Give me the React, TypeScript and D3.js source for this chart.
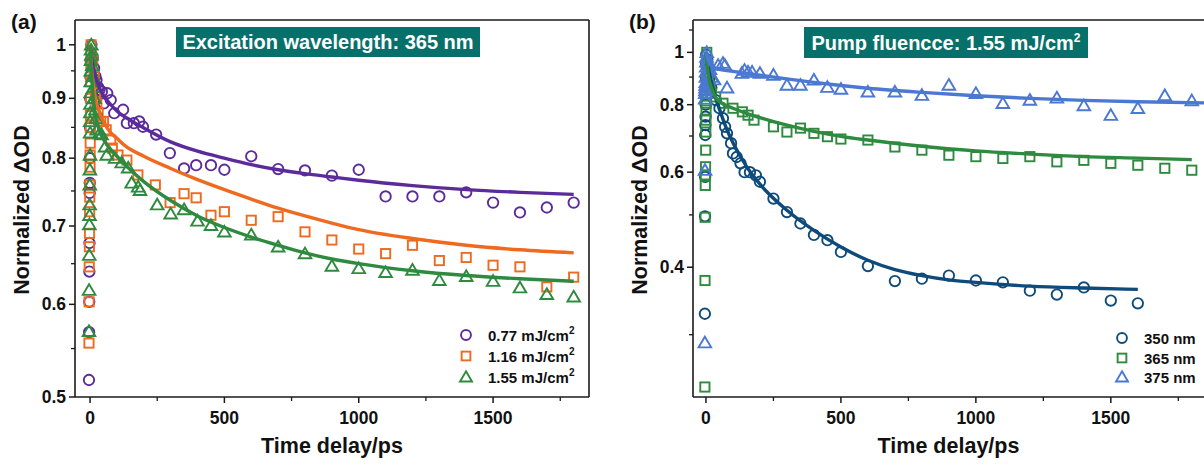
import React from "react";
import * as d3 from "d3";

// ---------- Panel (a) data: excitation 365 nm, different fluences ----------
const aSeriesNames = ["0.77", "1.16", "1.55"];
const aColors = ["#5b2a9b", "#ef6a1f", "#2e8a3f"];

const a077T = [-4, -3.5, -3, -2.5, -2, -1.5, -1, -0.5, 0, 0.5, 1, 2, 5, 10, 15, 20, 24, 30, 35, 44, 51, 64, 77, 90, 123, 137, 163, 183, 197, 246, 297, 350, 395, 450, 500, 600, 700, 800, 900, 1000, 1100, 1200, 1300, 1400, 1500, 1600, 1700, 1800];
const a077V = [0.517, 0.568, 0.603, 0.64, 0.677, 0.747, 0.762, 0.8, 0.85, 0.9, 0.94, 0.97, 1.0, 0.975, 0.955, 0.94, 0.933, 0.92, 0.915, 0.912, 0.891, 0.909, 0.897, 0.874, 0.88, 0.857, 0.857, 0.86, 0.851, 0.838, 0.808, 0.784, 0.789, 0.789, 0.782, 0.803, 0.783, 0.781, 0.773, 0.782, 0.742, 0.742, 0.742, 0.748, 0.733, 0.719, 0.726, 0.733];

const a116T = [-4, -3.5, -3, -2.5, -2, -1.5, -1, -0.5, 0, 0.3, 0.6, 1, 1.5, 2, 2.5, 3, 3.5, 4, 10, 15, 20, 25, 30, 40, 50, 60, 77, 83, 104, 137, 178, 243, 298, 350, 395, 450, 500, 600, 700, 800, 900, 1000, 1100, 1200, 1300, 1400, 1500, 1600, 1700, 1800];
const a116V = [0.556, 0.603, 0.646, 0.672, 0.69, 0.72, 0.741, 0.759, 0.786, 0.805, 0.824, 0.85, 0.87, 0.9, 0.93, 0.96, 0.98, 1.0, 0.97, 0.94, 0.91, 0.89, 0.875, 0.86, 0.86, 0.846, 0.829, 0.816, 0.805, 0.797, 0.774, 0.759, 0.733, 0.746, 0.74, 0.715, 0.72, 0.708, 0.713, 0.692, 0.681, 0.669, 0.663, 0.674, 0.654, 0.658, 0.648, 0.646, 0.621, 0.633];

const a155T = [-4, -3.5, -3, -2.5, -2, -1.5, -1, -0.5, 0, 0.3, 0.6, 1, 1.5, 2, 2.5, 3, 3.5, 4, 4.5, 5, 8, 11, 14, 17, 20, 23, 25, 35, 43, 56, 62, 93, 118, 142, 155, 179, 186, 250, 300, 350, 400, 450, 500, 600, 700, 800, 900, 1000, 1100, 1200, 1300, 1400, 1500, 1600, 1700, 1800];
const a155V = [0.569, 0.617, 0.661, 0.702, 0.715, 0.73, 0.759, 0.782, 0.805, 0.841, 0.86, 0.875, 0.89, 0.91, 0.93, 0.95, 0.97, 0.99, 1.0, 0.98, 0.96, 0.94, 0.92, 0.9, 0.88, 0.865, 0.846, 0.84, 0.838, 0.818, 0.805, 0.8, 0.793, 0.785, 0.762, 0.756, 0.751, 0.73, 0.717, 0.723, 0.707, 0.701, 0.692, 0.688, 0.672, 0.663, 0.647, 0.644, 0.639, 0.642, 0.629, 0.634, 0.628, 0.62, 0.612, 0.609];

const aFit077T = [0, 5, 15, 30, 50, 75, 100, 150, 200, 300, 400, 500, 600, 700, 800, 900, 1000, 1200, 1400, 1600, 1800];
const aFit077V = [1.0, 0.975, 0.95, 0.925, 0.905, 0.89, 0.878, 0.862, 0.849, 0.826, 0.811, 0.8, 0.79, 0.782, 0.776, 0.771, 0.766, 0.758, 0.752, 0.748, 0.745];
const aFit116T = [0, 5, 10, 20, 35, 50, 75, 100, 130, 200, 300, 400, 500, 600, 700, 800, 900, 1000, 1200, 1400, 1600, 1800];
const aFit116V = [1.0, 0.96, 0.93, 0.9, 0.875, 0.86, 0.842, 0.832, 0.82, 0.803, 0.784, 0.767, 0.752, 0.738, 0.725, 0.714, 0.704, 0.695, 0.683, 0.674, 0.668, 0.664];
const aFit155T = [0, 5, 10, 20, 35, 50, 75, 100, 150, 200, 300, 400, 500, 600, 700, 800, 900, 1000, 1200, 1400, 1600, 1800];
const aFit155V = [1.0, 0.95, 0.91, 0.87, 0.845, 0.83, 0.815, 0.803, 0.782, 0.764, 0.736, 0.714, 0.698, 0.685, 0.674, 0.664, 0.656, 0.65, 0.641, 0.635, 0.631, 0.628];

// ---------- Panel (b) data: pump fluence 1.55 mJ/cm2, different wavelengths ----------
const bSeriesNames = ["350 nm", "365 nm", "375 nm"];
const bColors = ["#0e4a7a", "#2e8a3f", "#4a78d2"];

const b350T = [-4, -3.5, -3, -2.5, -2, -1.5, -1, -0.5, 0, 0.5, 1, 5, 10, 15, 20, 36, 50, 63, 71, 78, 93, 100, 114, 128, 143, 163, 185, 200, 250, 300, 350, 400, 450, 500, 600, 700, 800, 900, 1000, 1100, 1200, 1300, 1400, 1500, 1600];
const b350V = [0.328, 0.497, 0.588, 0.703, 0.733, 0.76, 0.8, 0.85, 0.9, 0.95, 0.99, 0.97, 0.93, 0.9, 0.86, 0.816, 0.788, 0.755, 0.728, 0.708, 0.679, 0.65, 0.64, 0.623, 0.6, 0.6, 0.592, 0.576, 0.536, 0.506, 0.482, 0.459, 0.449, 0.427, 0.402, 0.377, 0.381, 0.386, 0.378, 0.375, 0.362, 0.356, 0.367, 0.347, 0.343];

const b365T = [-4, -3.5, -3, -2.5, -2, -1.5, -1, -0.5, 0, 0.3, 0.6, 1, 1.5, 2, 2.5, 3, 5, 10, 15, 20, 36, 63, 100, 135, 156, 178, 250, 300, 350, 400, 450, 500, 600, 700, 800, 900, 1000, 1100, 1200, 1300, 1400, 1500, 1600, 1700, 1800];
const b365V = [0.24, 0.378, 0.495, 0.567, 0.593, 0.614, 0.659, 0.712, 0.749, 0.782, 0.805, 0.83, 0.86, 0.9, 0.95, 1.0, 0.95, 0.9, 0.86, 0.84, 0.827, 0.805, 0.788, 0.776, 0.765, 0.749, 0.728, 0.712, 0.724, 0.708, 0.698, 0.691, 0.688, 0.668, 0.659, 0.645, 0.641, 0.636, 0.641, 0.627, 0.631, 0.623, 0.618, 0.61, 0.605];

const b375T = [-4, -3.5, -3, -2.5, -2, -1.5, -1, -0.5, 0, 0.5, 1, 1.5, 2, 3, 8, 15, 22, 30, 45, 63, 70, 78, 133, 143, 156, 171, 200, 250, 300, 350, 400, 450, 500, 600, 700, 800, 900, 1000, 1100, 1200, 1300, 1400, 1500, 1600, 1700, 1800];
const b375V = [0.29, 0.605, 0.82, 0.84, 0.85, 0.86, 0.87, 0.88, 0.9, 0.92, 0.94, 0.96, 0.98, 1.0, 0.96, 0.93, 0.9, 0.89, 0.947, 0.955, 0.947, 0.86, 0.915, 0.927, 0.92, 0.92, 0.915, 0.908, 0.87, 0.87, 0.889, 0.862, 0.855, 0.845, 0.845, 0.833, 0.87, 0.84, 0.805, 0.816, 0.824, 0.797, 0.765, 0.788, 0.832, 0.814];

const bFit350T = [0, 10, 25, 50, 75, 100, 150, 200, 300, 400, 500, 600, 700, 800, 900, 1000, 1200, 1400, 1600];
const bFit350V = [1.0, 0.93, 0.86, 0.785, 0.725, 0.68, 0.615, 0.57, 0.51, 0.468, 0.436, 0.412, 0.396, 0.386, 0.379, 0.375, 0.369, 0.366, 0.364];
const bFit365T = [0, 10, 20, 40, 70, 100, 150, 200, 300, 400, 500, 600, 800, 1000, 1200, 1400, 1600, 1800];
const bFit365V = [1.0, 0.9, 0.86, 0.82, 0.8, 0.788, 0.771, 0.757, 0.733, 0.714, 0.699, 0.688, 0.67, 0.657, 0.648, 0.641, 0.637, 0.633];
const bFit375T = [0, 10, 25, 50, 100, 200, 300, 400, 500, 600, 800, 1000, 1200, 1400, 1600, 1850];
const bFit375V = [1.0, 0.96, 0.94, 0.93, 0.922, 0.907, 0.893, 0.88, 0.868, 0.858, 0.843, 0.831, 0.822, 0.815, 0.81, 0.806];

// ---------- Axis ticks ----------
const xMajorTicks = [0, 500, 1000, 1500];
const xMinorTicks = [250, 750, 1250, 1750];
const aYMajor = [0.5, 0.6, 0.7, 0.8, 0.9, 1];
const aYMajorLabels = ["0.5", "0.6", "0.7", "0.8", "0.9", "1"];
const aYMinor = [0.55, 0.65, 0.75, 0.85, 0.95];
const bYMajor = [0.4, 0.6, 0.8, 1];
const bYMajorLabels = ["0.4", "0.6", "0.8", "1"];
const bYMinor = [0.3, 0.5, 0.7, 0.9, 1.1];

const FONT = "'Liberation Sans', Arial, Helvetica, sans-serif";

type Shape = "circle" | "square" | "triangle";

function Marker({ x, y, shape, color, s = 1 }: { x: number; y: number; shape: Shape; color: string; s?: number }) {
  const sw = 1.9;
  if (shape === "circle") return <circle cx={x} cy={y} r={5.2 * s} fill="none" stroke={color} strokeWidth={sw} />;
  if (shape === "square") {
    const h = 4.6 * s;
    return <rect x={x - h} y={y - h} width={2 * h} height={2 * h} fill="none" stroke={color} strokeWidth={sw} />;
  }
  const w = 6.3 * s;
  const p = `M${x},${y - 6 * s}L${x + w},${y + 4.7 * s}L${x - w},${y + 4.7 * s}Z`;
  return <path d={p} fill="none" stroke={color} strokeWidth={sw} strokeLinejoin="miter" />;
}

interface SeriesDef {
  t: number[];
  v: number[];
  fitT: number[];
  fitV: number[];
  color: string;
  shape: Shape;
  label: string;
  sup: boolean;
}

function Panel(props: {
  left: number; right: number; top: number; bottom: number;
  xDomain: [number, number]; yDomain: [number, number];
  yMajor: number[]; yLabels: string[]; yMinor: number[];
  series: SeriesDef[];
  tag: string; titleParts: [string, boolean];
  box: [number, number, number, number];
  legend: { sx: number; tx: number; ys: number[] };
  drawRight: boolean;
}) {
  const { left, right, top, bottom, series } = props;
  const x = d3.scaleLinear().domain(props.xDomain).range([left, right]);
  const y = d3.scaleLog().domain(props.yDomain).range([bottom, top]);
  const line = d3.line<[number, number]>().x(d => x(d[0])).y(d => y(d[1])).curve(d3.curveMonotoneX);
  const [bx, by, bw, bh] = props.box;
  const axisColor = "#1a1a1a";
  return (
    <g fontFamily={FONT} fontWeight="bold">
      <clipPath id={`clip-${props.tag}`}>
        <rect x={left} y={top} width={right - left} height={bottom - top} />
      </clipPath>
      <g clipPath={`url(#clip-${props.tag})`}>
        {series.map((s, si) => (
          <g key={"m" + si}>
            {s.t.map((t, i) => (
              <Marker key={i} x={x(t)} y={y(s.v[i])} shape={s.shape} color={s.color} />
            ))}
          </g>
        ))}
        {series.map((s, si) => (
          <path key={"l" + si} d={line(s.fitT.map((t, i) => [t, s.fitV[i]] as [number, number])) || ""}
            fill="none" stroke={s.color} strokeWidth={3.4} />
        ))}
      </g>
      {/* frame */}
      <line x1={left} x2={left} y1={top} y2={bottom} stroke={axisColor} strokeWidth={1.6} />
      <line x1={left} x2={right} y1={bottom} y2={bottom} stroke={axisColor} strokeWidth={1.6} />
      <line x1={left} x2={right} y1={top} y2={top} stroke={axisColor} strokeWidth={1.6} />
      {props.drawRight && <line x1={right} x2={right} y1={top} y2={bottom} stroke={axisColor} strokeWidth={1.6} />}
      {/* x ticks */}
      {xMajorTicks.map(t => (
        <g key={"xt" + t}>
          <line x1={x(t)} x2={x(t)} y1={bottom} y2={bottom + 6} stroke={axisColor} strokeWidth={1.5} />
          <text x={x(t)} y={bottom + 27} textAnchor="middle" fontSize={17.5} fill="#111">{t}</text>
        </g>
      ))}
      {xMinorTicks.map(t => (
        <line key={"xm" + t} x1={x(t)} x2={x(t)} y1={bottom} y2={bottom + 4} stroke={axisColor} strokeWidth={1.3} />
      ))}
      {/* y ticks */}
      {props.yMajor.map((v, i) => (
        <g key={"yt" + v}>
          <line x1={left - 6} x2={left} y1={y(v)} y2={y(v)} stroke={axisColor} strokeWidth={1.5} />
          <text x={left - 9} y={y(v) + 6} textAnchor="end" fontSize={17.5} fill="#111">{props.yLabels[i]}</text>
        </g>
      ))}
      {props.yMinor.map(v => (
        <line key={"ym" + v} x1={left - 4} x2={left} y1={y(v)} y2={y(v)} stroke={axisColor} strokeWidth={1.3} />
      ))}
      {/* axis titles */}
      <text x={(left + Math.min(right, 1204)) / 2 + (props.drawRight ? 0 : -2)} y={bottom + 56} textAnchor="middle" fontSize={21.5} fill="#111">Time delay/ps</text>
      <text transform={`translate(${left - 46},${210}) rotate(-90)`} textAnchor="middle" fontSize={21.5} fill="#111">Normalized ΔOD</text>
      {/* panel tag */}
      <text x={left - 64} y={29} fontSize={21} fill="#111">{props.tag}</text>
      {/* title box */}
      <rect x={bx} y={by} width={bw} height={bh} fill="#08706a" />
      <text x={bx + bw / 2} y={by + bh / 2 + 7} textAnchor="middle" fontSize={20} fill="#ffffff">
        {props.titleParts[0]}
        {props.titleParts[1] && <tspan dy={-8} fontSize={12}>2</tspan>}
      </text>
      {/* legend */}
      {series.map((s, i) => (
        <g key={"lg" + i}>
          <Marker x={props.legend.sx} y={props.legend.ys[i]} shape={s.shape} color={s.color} s={0.95} />
          <text x={props.legend.tx} y={props.legend.ys[i] + 5.5} fontSize={15} fill="#111">
            {s.label}
            {s.sup && <tspan dy={-7} fontSize={10}>2</tspan>}
          </text>
        </g>
      ))}
    </g>
  );
}

export default function App() {
  const aSeries: SeriesDef[] = [
    { t: a077T, v: a077V, fitT: aFit077T, fitV: aFit077V, color: aColors[0], shape: "circle", label: `${aSeriesNames[0]} mJ/cm`, sup: true },
    { t: a116T, v: a116V, fitT: aFit116T, fitV: aFit116V, color: aColors[1], shape: "square", label: `${aSeriesNames[1]} mJ/cm`, sup: true },
    { t: a155T, v: a155V, fitT: aFit155T, fitV: aFit155V, color: aColors[2], shape: "triangle", label: `${aSeriesNames[2]} mJ/cm`, sup: true },
  ];
  const bSeries: SeriesDef[] = [
    { t: b350T, v: b350V, fitT: bFit350T, fitV: bFit350V, color: bColors[0], shape: "circle", label: bSeriesNames[0], sup: false },
    { t: b365T, v: b365V, fitT: bFit365T, fitV: bFit365V, color: bColors[1], shape: "square", label: bSeriesNames[1], sup: false },
    { t: b375T, v: b375V, fitT: bFit375T, fitV: bFit375V, color: bColors[2], shape: "triangle", label: bSeriesNames[2], sup: false },
  ];
  return (
    <svg width={1204} height={466} viewBox="0 0 1204 466" style={{ display: "block", position: "absolute", left: 0, top: 0, background: "#fff" }}>
      <rect x={0} y={0} width={1204} height={466} fill="#fff" />
      <Panel left={75} right={589} top={20} bottom={397}
        xDomain={[-56, 1857]} yDomain={[0.5, 1.05]}
        yMajor={aYMajor} yLabels={aYMajorLabels} yMinor={aYMinor}
        series={aSeries} tag="(a)" titleParts={["Excitation wavelength: 365 nm", false]}
        box={[176, 27, 304, 30]} legend={{ sx: 466, tx: 488, ys: [335, 356, 377] }} drawRight={true} />
      <Panel left={693} right={1208} top={20} bottom={397}
        xDomain={[-48, 1860]} yDomain={[0.23, 1.148]}
        yMajor={bYMajor} yLabels={bYMajorLabels} yMinor={bYMinor}
        series={bSeries} tag="(b)" titleParts={["Pump fluencce: 1.55 mJ/cm", true]}
        box={[804, 27, 284, 31]} legend={{ sx: 1122, tx: 1144, ys: [338, 358, 377] }} drawRight={true} />
    </svg>
  );
}
